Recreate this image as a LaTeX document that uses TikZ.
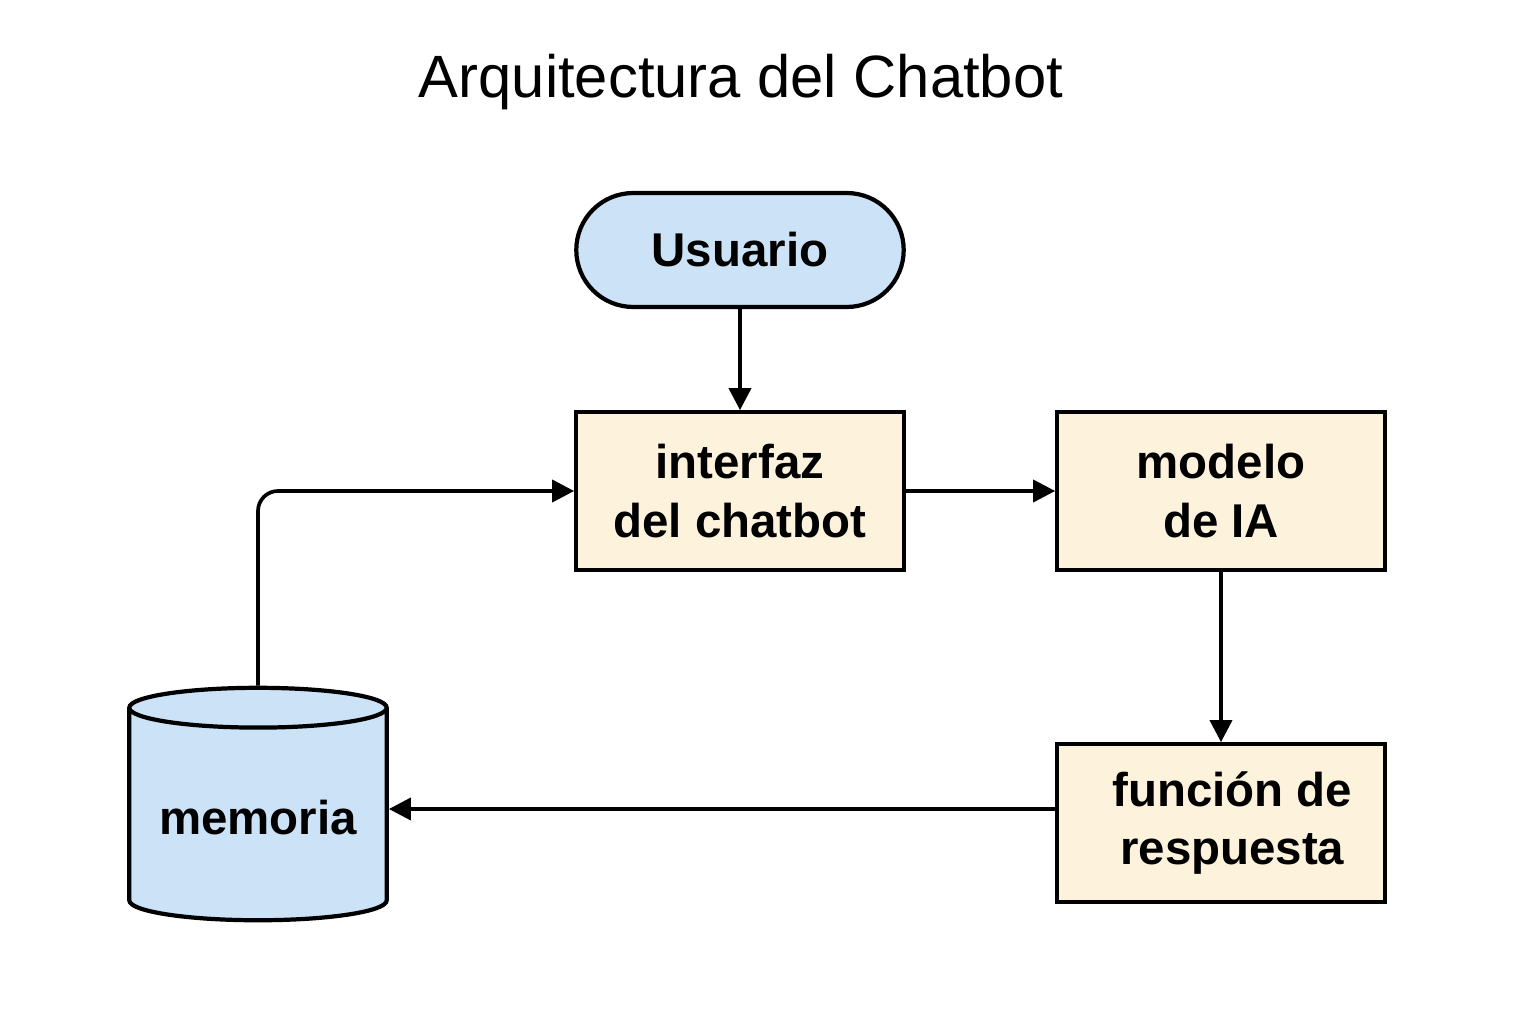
\documentclass[tikz,border=0pt]{standalone}
\usepackage{fontspec}
\setmainfont{Liberation Sans}
\usepackage{tikz}
\usepackage{xcolor}
\usetikzlibrary{arrows.meta,shapes.geometric}
\definecolor{user-blue}{RGB}{204,226,247}
\definecolor{box-cream}{RGB}{253,243,220}
\tikzset{
    process-box/.style = {draw=black, fill=box-cream, line width=2.4pt, rectangle, align=center, minimum width=6.55cm, minimum height=3.15cm, font=\fontsize{27}{33.5}\selectfont\bfseries},
    start-box/.style = {draw=black, fill=user-blue, line width=2.4pt, rectangle, rounded corners=1.14cm, minimum width=6.55cm, minimum height=2.28cm, font=\fontsize{27}{33.5}\selectfont\bfseries},
    store-box/.style = {draw=black, fill=user-blue, line width=2.4pt, cylinder, shape border rotate=90, aspect=0.19, minimum width=5.15cm, minimum height=4.65cm, font=\fontsize{27}{33.5}\selectfont\bfseries},
    flow-arrow/.style = {line width=2.1pt, -{Triangle[length=0.44cm, width=0.44cm]}},
    title-text/.style = {font=\fontsize{34}{40}\selectfont},
}
\begin{document}
\begin{tikzpicture}[x=0.02cm, y=-0.02cm]
\fill[white] (0,0) rectangle (1536,1024);
\useasboundingbox (0,0) rectangle (1536,1024);
\node[title-text] (title) at (741,82) {Arquitectura del Chatbot};
\node[start-box] (usuario) at (740,250) {Usuario};
\node[process-box] (interfaz) at (740,491) {interfaz\\del chatbot};
\node[process-box] (modelo) at (1221,491) {modelo\\de IA};
\node[process-box] (respuesta) at (1221,823) {\hspace*{0.45cm}función de\\\hspace*{0.45cm}respuesta};
\node[store-box] (memoria) at (258,818) {memoria};
\coordinate (memoria-in) at ([yshift=0.18cm]memoria.east);
\draw[flow-arrow] (usuario) -- (interfaz);
\draw[flow-arrow] (interfaz) -- (modelo);
\draw[flow-arrow] (modelo) -- (respuesta);
\draw[flow-arrow] (respuesta.west |- memoria-in) -- (memoria-in);
\draw[flow-arrow, rounded corners=0.4cm] (memoria.north) |- (interfaz.west);
\end{tikzpicture}
\end{document}
